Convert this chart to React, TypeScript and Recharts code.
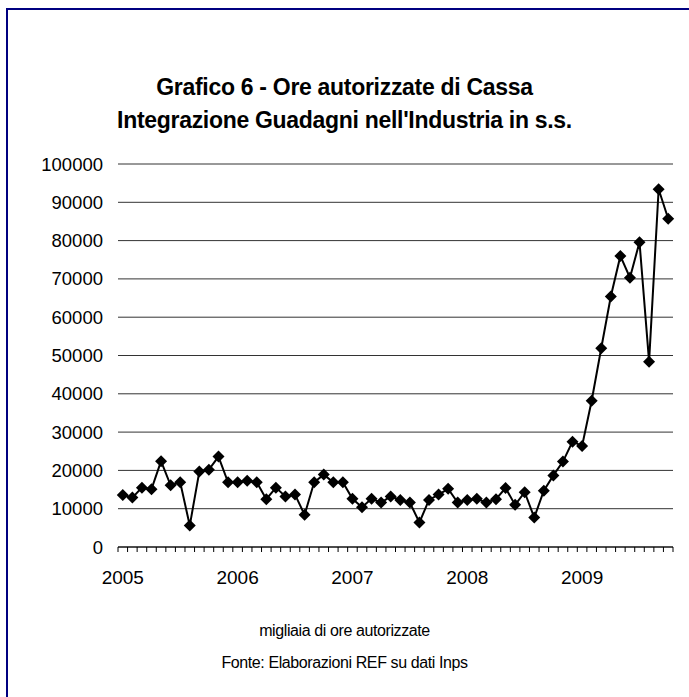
import React from "react";
import { LineChart, Line, XAxis, YAxis, CartesianGrid } from "recharts";

// Ore autorizzate CIG industria, migliaia, gen 2005 - ott 2009
const years = ["2005", "2006", "2007", "2008", "2009"];
const monthsInYear = 12;
const hours = [
  13600, 12900, 15500, 15100, 22400, 16100, 16900, 5600, 19700, 20200, 23600, 16900,
  16900, 17300, 16900, 12500, 15500, 13200, 13700, 8400, 16900, 18900, 16900, 16900,
  12600, 10400, 12600, 11600, 13200, 12300, 11600, 6400, 12300, 13700, 15200, 11600,
  12300, 12600, 11600, 12500, 15400, 11000, 14300, 7700, 14700, 18700, 22300, 27500,
  26400, 38200, 51900, 65400, 76000, 70300, 79600, 48400, 93400, 85700,
];
const yTicks = [0, 10000, 20000, 30000, 40000, 50000, 60000, 70000, 80000, 90000, 100000];

const data = hours.map((v, i) => ({
  idx: i,
  month: `${years[Math.floor(i / monthsInYear)]}-${String((i % monthsInYear) + 1).padStart(2, "0")}`,
  value: v,
}));

// tick marks between categories, year labels on january
const boundaryTicks = Array.from({ length: hours.length + 1 }, (_, i) => i - 0.5);
const yearTicks = years.map((_, i) => i * monthsInYear);

const FONT = "'Liberation Sans', Arial, sans-serif";

const Diamond = (props: any) => {
  const { cx, cy, index } = props;
  if (cx == null || cy == null) return <g key={index} />;
  const r = 6;
  return (
    <polygon
      key={index}
      points={`${cx},${cy - r} ${cx + r},${cy} ${cx},${cy + r} ${cx - r},${cy}`}
      fill="#000"
    />
  );
};

export default function App() {
  return (
    <div
      style={{
        position: "fixed",
        left: 0,
        top: 0,
        width: 689,
        height: 697,
        background: "#fff",
        overflow: "hidden",
        fontFamily: FONT,
      }}
    >
      <div
        style={{
          position: "absolute",
          left: 6,
          top: 8,
          width: 720,
          height: 720,
          border: "2px solid #000080",
          boxSizing: "border-box",
        }}
      />
      <div
        style={{
          position: "absolute",
          left: 0,
          width: 689,
          top: 71,
          textAlign: "center",
          fontWeight: "bold",
          fontSize: 23,
          lineHeight: "33px",
          letterSpacing: -0.3,
          color: "#000",
        }}
      >
        <div>Grafico 6 - Ore autorizzate di Cassa</div>
        <div>Integrazione Guadagni nell'Industria in s.s.</div>
      </div>

      <div style={{ position: "absolute", left: 0, top: 0 }}>
        <LineChart
          width={689}
          height={697}
          data={data}
          margin={{ top: 164, right: 16, bottom: 114, left: 0 }}
        >
          <CartesianGrid xAxisId="marks" vertical={false} stroke="#333" strokeWidth={1} />
          <XAxis
            xAxisId="marks"
            dataKey="idx"
            type="number"
            domain={[-0.5, hours.length - 0.5]}
            ticks={boundaryTicks}
            interval={0}
            height={6}
            tickSize={5}
            tickFormatter={() => ""}
            axisLine={{ stroke: "#000", strokeWidth: 1 }}
            tickLine={{ stroke: "#000", strokeWidth: 1 }}
          />
          <XAxis
            xAxisId="years"
            dataKey="idx"
            type="number"
            domain={[-0.5, hours.length - 0.5]}
            ticks={yearTicks}
            interval={0}
            height={30}
            tickSize={6}
            tickMargin={12}
            axisLine={false}
            tickLine={false}
            tickFormatter={(v: number) => years[Math.round(v / monthsInYear)]}
            tick={{ fill: "#000", fontSize: 19, fontFamily: FONT }}
          />
          <YAxis
            domain={[0, 100000]}
            ticks={yTicks}
            interval={0}
            width={118}
            axisLine={false}
            tickLine={false}
            tickSize={6}
            tickMargin={9}
            tick={{ fill: "#000", fontSize: 18.5, fontFamily: FONT }}
          />
          <Line
            xAxisId="marks"
            dataKey="value"
            stroke="#000"
            strokeWidth={2}
            type="linear"
            dot={Diamond}
            activeDot={false}
            isAnimationActive={false}
          />
        </LineChart>
      </div>

      <div
        style={{
          position: "absolute",
          left: 0,
          width: 689,
          top: 615,
          textAlign: "center",
          fontSize: 16,
          lineHeight: "32px",
          letterSpacing: -0.4,
          color: "#000",
        }}
      >
        <div>migliaia di ore autorizzate</div>
        <div>Fonte: Elaborazioni REF su dati Inps</div>
      </div>
    </div>
  );
}
